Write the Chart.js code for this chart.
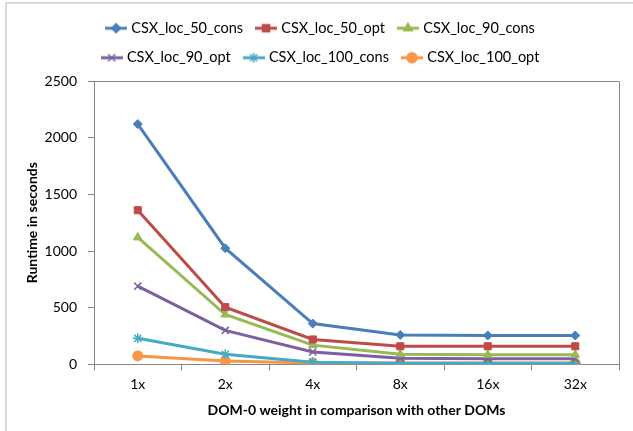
<!DOCTYPE html>
<html><head><meta charset="utf-8">
<script src="https://cdn.jsdelivr.net/npm/chart.js@4/dist/chart.umd.min.js"></script>
<style>
html,body{margin:0;padding:0;background:#fff;overflow:hidden;}
#frame{position:absolute;left:5px;top:2px;width:660px;height:460px;border:2px solid #d9d9d9;}
#wrap{position:absolute;left:0;top:0;width:633px;height:431px;}
</style></head>
<body>
<div id="frame"></div>
<div id="wrap"><canvas id="c" width="633" height="431"></canvas></div>
<script>
const categories = ["1x","2x","4x","8x","16x","32x"];
const seriesNames = ["CSX_loc_50_cons","CSX_loc_50_opt","CSX_loc_90_cons","CSX_loc_90_opt","CSX_loc_100_cons","CSX_loc_100_opt"];
const loc50cons = [2120, 1025, 360, 260, 255, 255];
const loc50opt  = [1360, 505, 220, 160, 160, 160];
const loc90cons = [1120, 440, 170, 90, 85, 85];
const loc90opt  = [690, 300, 110, 55, 50, 50];
const loc100cons= [230, 90, 20, 10, 10, 10];
const loc100opt = [75, 30, 12, 12, 12, 12];
const yTicks = [0, 500, 1000, 1500, 2000, 2500];

const colors = ["#4A7EBB","#BE4B48","#98B954","#7D60A0","#46AAC5","#F79646"];
const styles = ["rectRot","rect","triangle","crossRot","star","circle"];
const radii = [4.5, 5, 5, 5, 5, 5];
const allData = [loc50cons, loc50opt, loc90cons, loc90opt, loc100cons, loc100opt];

function legendImage(color, style, r){
  const cv = document.createElement('canvas');
  cv.width = 22; cv.height = 14;
  const ctx = cv.getContext('2d');
  ctx.strokeStyle = color; ctx.fillStyle = color; ctx.lineWidth = 3;
  ctx.beginPath(); ctx.moveTo(0,7); ctx.lineTo(22,7); ctx.stroke();
  ctx.lineWidth = 1.5;
  Chart.helpers.drawPoint(ctx, {pointStyle: style, radius: r, borderWidth: 1.5}, 11, 7);
  return cv;
}

const datasets = seriesNames.map((n,i)=>({
  label: n,
  data: allData[i],
  borderColor: colors[i],
  backgroundColor: colors[i],
  borderWidth: 3,
  pointStyle: styles[i],
  pointRadius: radii[i],
  pointBorderWidth: (styles[i]==='crossRot'||styles[i]==='star') ? 1.5 : 1,
  pointBorderColor: colors[i],
  pointBackgroundColor: colors[i],
  tension: 0
}));

const areaBorder = {
  id: 'areaBorder',
  afterInit(chart){
    const lg = chart.legend;
    if (lg) {
      const f = lg.fit;
      lg.fit = function(){ f.call(this); this.height += 6; };
      const u = lg.update;
      lg.update = function(maxW, maxH, margins){ return u.call(this, Math.min(maxW, 560), maxH, margins); };
    }
  },
  afterDraw(chart){
    const {ctx, chartArea:a} = chart;
    ctx.save();
    ctx.strokeStyle = '#868686'; ctx.lineWidth = 1;
    ctx.beginPath();
    ctx.moveTo(a.left, a.top + 0.5); ctx.lineTo(a.right + 0.5, a.top + 0.5); ctx.lineTo(a.right + 0.5, a.bottom);
    ctx.stroke();
    ctx.restore();
  }
};

new Chart(document.getElementById('c'), {
  type: 'line',
  data: { labels: categories, datasets },
  plugins: [areaBorder],
  options: {
    responsive: false,
    animation: false,
    layout: { padding: { top: 6, left: 24, right: 14, bottom: 8 } },
    font: { family: 'Lato' },
    plugins: {
      legend: {
        position: 'top',
        labels: {
          font: { family: 'Lato', size: 14.5 },
          color: '#000',
          usePointStyle: true,
          pointStyleWidth: 16,
          padding: 15,
          generateLabels(chart){
            return chart.data.datasets.map((d,i)=>({
              text: d.label,
              pointStyle: legendImage(colors[i], styles[i], radii[i]),
              fillStyle: colors[i], strokeStyle: colors[i], lineWidth: 0,
              datasetIndex: i, hidden: false
            }));
          }
        }
      },
      tooltip: { enabled: false }
    },
    scales: {
      x: {
        offset: true,
        grid: { display: true, drawOnChartArea: false, offset: true, color: '#868686', tickLength: 6, drawTicks: true },
        border: { color: '#868686' },
        ticks: { color: '#000', font: { family: 'Lato', size: 14 }, padding: 6 },
        title: { display: true, text: 'DOM-0 weight in comparison with other DOMs', color: '#000', font: { family: 'Lato', size: 14, weight: 'bold' }, padding: { top: 3, bottom: 4 } }
      },
      y: {
        min: 0, max: 2500,
        afterBuildTicks(scale){ scale.ticks = yTicks.map(v=>({value:v})); },
        afterFit(scale){ scale.width = 70; },
        grid: { display: true, drawOnChartArea: false, color: '#868686', tickLength: 6 },
        border: { color: '#868686' },
        ticks: { color: '#000', font: { family: 'Lato', size: 14 }, padding: 11, callback: v => String(v) },
        title: { display: true, text: 'Runtime in seconds', color: '#000', font: { family: 'Lato', size: 14, weight: 'bold' }, padding: { top: 0, bottom: 2 } }
      }
    }
  }
});
</script>
</body></html>
